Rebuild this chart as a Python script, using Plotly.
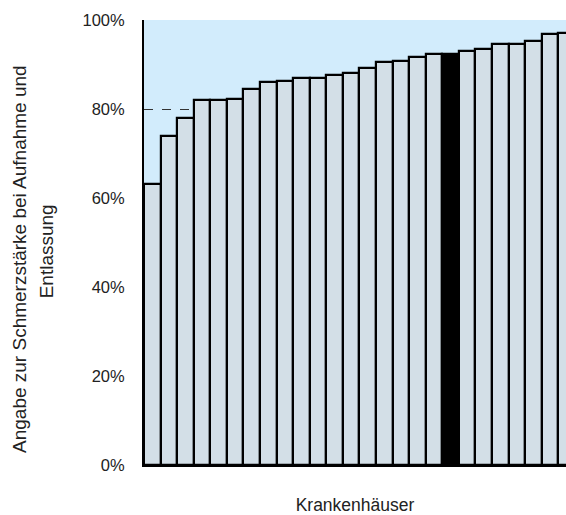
import plotly.graph_objects as go

hospitals = [f"KH {i+1}" for i in range(26)]
values = [63.2, 74.0, 78.0, 82.0, 82.0, 82.2, 84.5, 86.0, 86.2, 87.0, 87.0, 87.7, 88.0,
          89.2, 90.5, 90.7, 91.7, 92.3, 92.4, 93.0, 93.5, 94.5, 94.5, 95.3, 96.8, 97.0]
highlight_index = 18
tick_vals = [0, 20, 40, 60, 80, 100]
tick_text = ["0%", "20%", "40%", "60%", "80%", "100%"]
y_title_lines = ["Angabe zur Schmerzstärke bei Aufnahme und", "Entlassung"]
x_title = "Krankenhäuser"

colors = ["#000000" if i == highlight_index else "#d3dfe7" for i in range(len(values))]

fig = go.Figure()
fig.add_trace(go.Bar(
    x=list(range(len(values))), y=values, width=1.0,
    marker=dict(color=colors, line=dict(color="#000000", width=2.2)),
    hovertext=hospitals, showlegend=False,
))

font = "'Liberation Sans', Arial, sans-serif"
fig.update_layout(
    width=566, height=515,
    margin=dict(l=144, r=0, t=20, b=50),
    paper_bgcolor="white", plot_bgcolor="#d2ecfc",
    bargap=0,
    font=dict(family=font, size=17, color="#222222"),
    xaxis=dict(range=[-0.5, 24.97], showticklabels=False, ticks="", showgrid=False,
               zeroline=False, showline=True, linecolor="#000000", linewidth=2,
               title=dict(text=x_title, standoff=33, font=dict(size=17.5))),
    yaxis=dict(range=[0, 100], tickvals=tick_vals, ticktext=tick_text,
               ticks="outside", ticklen=14, tickcolor="rgba(0,0,0,0)",
               tickfont=dict(size=16.5),
               showgrid=True, gridcolor="#333333", griddash="dash", gridwidth=1,
               zeroline=False, showline=True, linecolor="#000000", linewidth=2),
)

# y-axis title as two rotated lines
for text, xc, yc in [(y_title_lines[0], -0.2938, 0.463), (y_title_lines[1], -0.231, 0.479)]:
    fig.add_annotation(text=text, xref="paper", yref="paper", x=xc, y=yc,
                       xanchor="center", yanchor="middle", textangle=-90,
                       showarrow=False, font=dict(size=19, color="#222222"))

fig.write_html("out.html", config={"displayModeBar": False},
               post_script="document.body.style.margin='0';document.body.style.overflow='hidden';")
